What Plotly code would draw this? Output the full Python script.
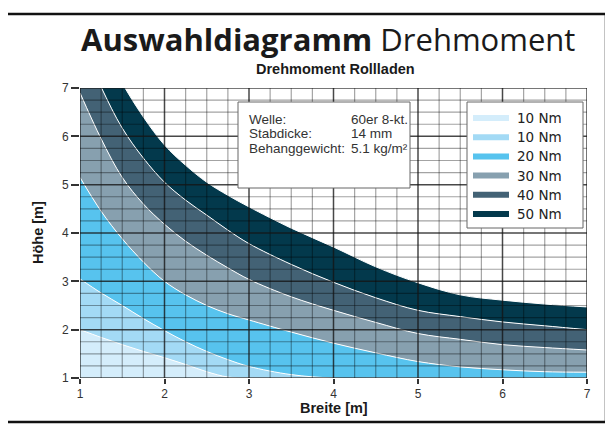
import plotly.graph_objects as go

# ---------------- data ----------------
breite = [1, 1.25, 1.5, 1.75, 2, 2.25, 2.5, 2.75, 3, 3.5, 4, 4.5, 5, 5.5, 6, 6.5, 7]
hoehe_10a = [2.0, 1.84, 1.69, 1.55, 1.42, 1.28, 1.13, 1.02, 1.0, 1.0, 1.0, 1.0, 1.0, 1.0, 1.0, 1.0, 1.0]
hoehe_10b = [3.05, 2.76, 2.50, 2.23, 1.98, 1.75, 1.55, 1.38, 1.24, 1.07, 1.0, 1.0, 1.0, 1.0, 1.0, 1.0, 1.0]
hoehe_20 = [5.15, 4.45, 3.88, 3.40, 3.00, 2.72, 2.50, 2.33, 2.20, 1.95, 1.72, 1.52, 1.34, 1.23, 1.17, 1.13, 1.12]
hoehe_30 = [6.9, 5.95, 5.15, 4.60, 4.18, 3.83, 3.54, 3.28, 3.04, 2.68, 2.40, 2.15, 1.92, 1.80, 1.69, 1.63, 1.58]
hoehe_40 = [8.0, 7.02, 6.17, 5.55, 5.05, 4.68, 4.37, 4.06, 3.78, 3.35, 2.98, 2.66, 2.40, 2.27, 2.16, 2.08, 2.0]
hoehe_50 = [9.0, 7.95, 7.1, 6.4, 5.82, 5.4, 5.05, 4.78, 4.54, 4.10, 3.71, 3.30, 2.97, 2.72, 2.61, 2.53, 2.47]

series_names = ["10 Nm", "10 Nm", "20 Nm", "30 Nm", "40 Nm", "50 Nm"]
series_values = [hoehe_10a, hoehe_10b, hoehe_20, hoehe_30, hoehe_40, hoehe_50]
series_colors = ["#d4edfb", "#a3daf5", "#57c3ee", "#87a0af", "#436275", "#03394c"]

x_ticks = [1, 2, 3, 4, 5, 6, 7]
y_ticks = [1, 2, 3, 4, 5, 6, 7]

info_labels = ["Welle:", "Stabdicke:", "Behanggewicht:"]
info_values = ["60er 8-kt.", "14 mm", "5.1 kg/m²"]

# ---------------- figure ----------------
OFF = 8  # page body margin
W, H = 613 - OFF, 428 - OFF
L, T = 80 - OFF, 88 - OFF
R, B = W - (587 - OFF), H - (378 - OFF)
pw, ph = W - L - R, H - T - B


def px(xp):
    return (xp - OFF - L) / pw


def py(yp):
    return (H - B - (yp - OFF)) / ph


fig = go.Figure()

# base line
fig.add_trace(go.Scatter(x=breite, y=[1.0] * len(breite), mode="lines",
                         line=dict(width=0, color="rgba(0,0,0,0)"),
                         showlegend=False, hoverinfo="skip"))
for name, vals, col in zip(series_names, series_values, series_colors):
    fig.add_trace(go.Scatter(x=breite, y=vals, mode="lines", name=name,
                             fill="tonexty", fillcolor=col,
                             line=dict(color="white", width=1, shape="spline", smoothing=1.0),
                             showlegend=False))

shapes = []
# grid above fills
n = 24
for i in range(n + 1):
    v = 1 + i * 0.25
    major = (i % 4 == 0)
    col = "rgba(20,20,20,0.78)" if major else "rgba(0,0,0,0.36)"
    w = 1.5 if major else 1.2
    shapes.append(dict(type="line", xref="x", yref="y", x0=v, x1=v, y0=1, y1=7,
                       line=dict(color=col, width=w), layer="above"))
    shapes.append(dict(type="line", xref="x", yref="y", x0=1, x1=7, y0=v, y1=v,
                       line=dict(color=col, width=w), layer="above"))

# outer frame
shapes.append(dict(type="rect", xref="paper", yref="paper",
                   x0=px(6), x1=px(606), y0=py(422), y1=py(14),
                   line=dict(color="#111111", width=2.5), fillcolor="rgba(0,0,0,0)", layer="above"))
# info box
shapes.append(dict(type="rect", xref="paper", yref="paper",
                   x0=px(238), x1=px(410), y0=py(188), y1=py(102),
                   line=dict(color="#666666", width=1), fillcolor="white", layer="above"))
# legend box
shapes.append(dict(type="rect", xref="paper", yref="paper",
                   x0=px(467), x1=px(583), y0=py(228), y1=py(102),
                   line=dict(color="#666666", width=1), fillcolor="white", layer="above"))

annotations = []
row0, rowstep = 118, 19.2
for i, (name, col) in enumerate(zip(series_names, series_colors)):
    yy = row0 + i * rowstep
    shapes.append(dict(type="rect", xref="paper", yref="paper",
                       x0=px(473), x1=px(509), y0=py(yy + 3), y1=py(yy - 3),
                       line=dict(width=0), fillcolor=col, layer="above"))
    annotations.append(dict(text=name, xref="paper", yref="paper", x=px(515), y=py(yy),
                            xanchor="left", yanchor="middle", showarrow=False,
                            font=dict(family="DejaVu Sans", size=13.5, color="#222222")))

for i, (lab, val) in enumerate(zip(info_labels, info_values)):
    yy = 119 + i * 14.5
    annotations.append(dict(text=lab, xref="paper", yref="paper", x=px(247), y=py(yy),
                            xanchor="left", yanchor="middle", showarrow=False,
                            font=dict(family="Liberation Sans, Arial", size=13.5, color="#333333")))
    annotations.append(dict(text=val, xref="paper", yref="paper", x=px(349), y=py(yy),
                            xanchor="left", yanchor="middle", showarrow=False,
                            font=dict(family="Liberation Sans, Arial", size=13.5, color="#333333")))

annotations.append(dict(text="<b>Auswahldiagramm</b> Drehmoment", xref="paper", yref="paper",
                        x=px(328), y=py(39), xanchor="center", yanchor="middle", showarrow=False,
                        font=dict(family="Open Sans", size=31, color="#1a1a1a")))
annotations.append(dict(text="<b>Drehmoment Rollladen</b>", xref="paper", yref="paper",
                        x=px(335), y=py(69), xanchor="center", yanchor="middle", showarrow=False,
                        font=dict(family="Liberation Sans, Arial", size=14.5, color="#1a1a1a")))
annotations.append(dict(text="<b>Breite [m]</b>", xref="paper", yref="paper",
                        x=0.5, y=py(408), xanchor="center", yanchor="middle", showarrow=False,
                        font=dict(family="Liberation Sans, Arial", size=14.5, color="#1a1a1a")))
annotations.append(dict(text="<b>Höhe [m]</b>", xref="paper", yref="paper",
                        x=px(38), y=0.5, xanchor="center", yanchor="middle", showarrow=False,
                        textangle=-90,
                        font=dict(family="Liberation Sans, Arial", size=14.5, color="#1a1a1a")))

fig.update_layout(
    width=W, height=H, autosize=False,
    margin=dict(l=L, r=R, t=T, b=B),
    paper_bgcolor="white", plot_bgcolor="white",
    showlegend=False,
    shapes=shapes, annotations=annotations,
    xaxis=dict(range=[1, 7], tickvals=x_ticks, showgrid=False, zeroline=False,
               ticks="outside", ticklen=5, tickwidth=1.5, tickcolor="#333333",
               tickfont=dict(family="Liberation Sans, Arial", size=12, color="#333333"),
               showline=False, fixedrange=True),
    yaxis=dict(range=[1, 7], tickvals=y_ticks, showgrid=False, zeroline=False,
               ticks="outside", ticklen=8, tickwidth=1.5, tickcolor="#333333",
               tickfont=dict(family="Liberation Sans, Arial", size=12, color="#333333"),
               showline=False, fixedrange=True),
)

fig.write_html("out.html")
